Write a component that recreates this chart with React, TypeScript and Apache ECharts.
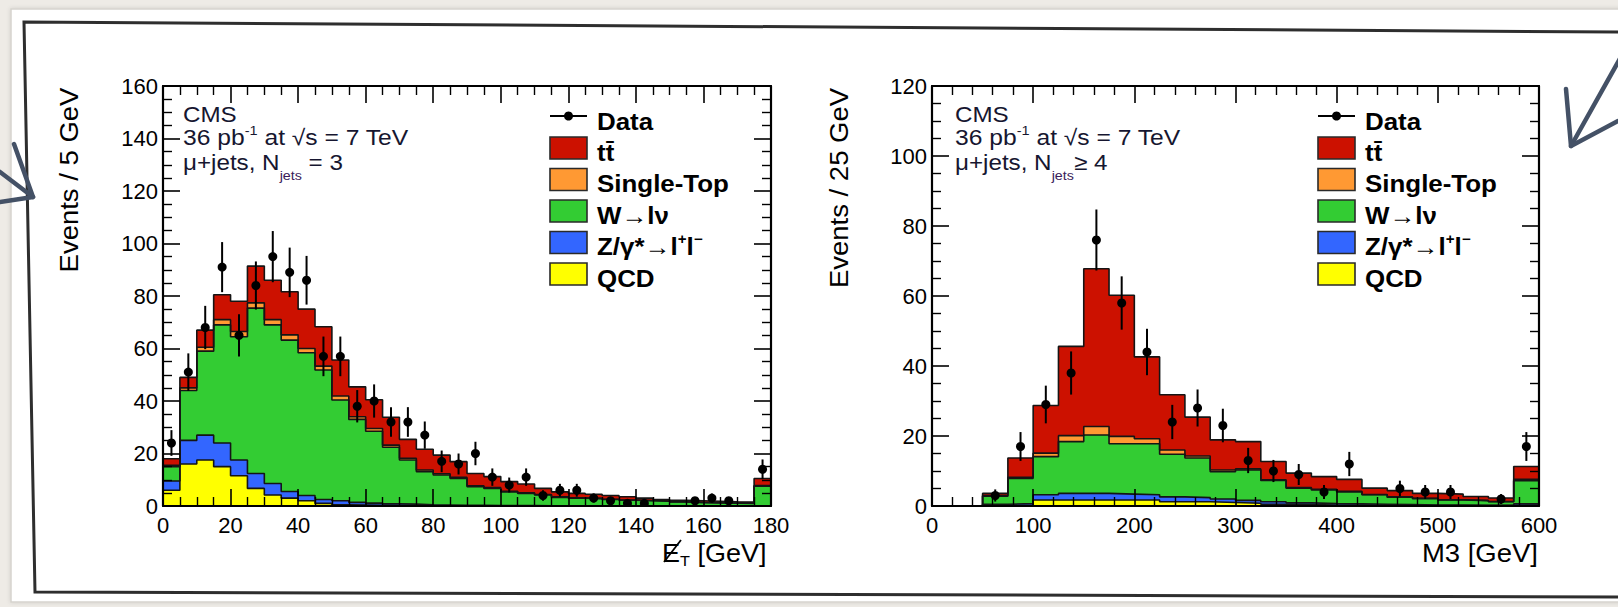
import React, { useEffect, useRef } from "react";
import * as echarts from "echarts";

// ---------------- data: missing E_T (5 GeV bins, 0-180) ----------------
const metBinWidth = 5;
const metQCD = [6, 16, 17.5, 15, 11.5, 6.7, 4.2, 3, 2, 1, 0.5, 0.4, 0.3, 0.2, 0.2, 0.1, 0.1, 0.1, 0, 0, 0, 0, 0, 0, 0, 0, 0, 0, 0, 0, 0, 0, 0, 0, 0, 0];
const metZ = [3.5, 9, 9.5, 9, 6, 5.7, 4.4, 2.5, 2, 1.5, 1.5, 1, 0.8, 0.6, 0.5, 0.4, 0.3, 0.2, 0.3, 0.2, 0.2, 0.2, 0.1, 0.1, 0.1, 0.1, 0.1, 0, 0, 0, 0, 0, 0, 0, 0, 0.1];
const metW = [5.5, 19, 32, 45, 47, 63, 60.4, 57.7, 54.4, 49.3, 38.4, 31.6, 27.4, 21.6, 16.8, 12.6, 11.4, 10.2, 7.1, 6.5, 5.2, 4.6, 4.1, 3.2, 2.9, 2.7, 2.4, 2.2, 2.0, 1.8, 1.5, 1.3, 1.2, 1.1, 1.0, 7.4];
const metST = [0.5, 1, 1.5, 2, 2, 2, 2, 2, 1.6, 1.5, 1.5, 1, 1, 0.8, 0.7, 0.6, 0.5, 0.4, 0.3, 0.3, 0.2, 0.2, 0.2, 0.2, 0.1, 0.1, 0.1, 0.1, 0.1, 0.1, 0.1, 0.1, 0.1, 0.1, 0.1, 0.3];
const metTT = [2.5, 4, 6.5, 9.5, 11.5, 14, 15, 16.4, 15, 15, 13.7, 11.4, 11, 10.6, 7.2, 7.9, 7.1, 6, 4.7, 4.2, 3.7, 3.4, 2.3, 1.9, 1.7, 1.6, 1.4, 1.2, 0.9, 0.6, 0.6, 0.6, 0.5, 0.4, 0.4, 2.7];
const metData: (number | null)[] = [24, 51, 68, 91, 65, 84, 95, 89, 86, 57, 57, 38, 40, 32, 32, 27, 17, 16, 20, 11, 8, 11, 4, 6, 6, 3, 2, 1, 1, null, null, 2, 3, 2, null, 14];

// ---------------- data: M3 (25 GeV bins, 0-600) ----------------
const m3BinWidth = 25;
const m3QCD = [0, 0, 0.2, 0.3, 1.7, 1.7, 1.7, 1.7, 1.7, 1.2, 1.2, 1.0, 0.8, 0.5, 0.4, 0.3, 0.3, 0.2, 0.2, 0.1, 0.1, 0.1, 0.1, 0.3];
const m3Z = [0, 0, 0.3, 0.4, 1.5, 1.9, 1.9, 1.7, 1.5, 1.4, 1.2, 1.0, 0.8, 0.7, 0.5, 0.4, 0.3, 0.3, 0.2, 0.2, 0.2, 0.1, 0.1, 0.3];
const m3W = [0, 0, 2.3, 7.2, 10.9, 14.8, 16.7, 14.4, 14.6, 12.2, 11.3, 7.8, 8.7, 6.1, 4.2, 3.9, 3.4, 2.7, 2.1, 1.8, 1.4, 1.3, 1.0, 6.6];
const m3ST = [0, 0, 0.2, 0.3, 1.0, 1.7, 2.4, 2.1, 1.4, 1.2, 0.6, 0.5, 0.3, 0.2, 0.2, 0.2, 0.2, 0.1, 0.1, 0.1, 0.1, 0.1, 0.1, 0.4];
const m3TT = [0, 0, 0.6, 5.5, 13.6, 25.5, 45.1, 40.3, 23.4, 15.8, 11.1, 8.6, 7.8, 5.2, 4.1, 3.6, 3.4, 1.8, 1.8, 1.4, 1.6, 1.1, 1.0, 3.7];
const m3Data: (number | null)[] = [null, null, 3, 17, 29, 38, 76, 58, 44, 24, 28, 23, 13, 10, 9, 4, 12, null, 5, 4, 4, null, 2, 17];

// axis definitions
const metAxisMax = 180;
const metAxisInterval = 20;
const metYMax = 160;
const m3AxisMax = 600;
const m3AxisInterval = 100;
const m3YMax = 120;
const yInterval = 20;

// ---------------- styling ----------------
const FONT = '"Liberation Sans", Arial, Helvetica, sans-serif';
const LAYER_NAMES = ["QCD", "Z/γ*→l⁺l⁻", "W→lν", "Single-Top", "tt̄"];
const LAYER_COLORS = ["#ffff00", "#3366ff", "#33cc33", "#ff9933", "#cc1100"];

function cumulative(layers: number[][]): number[][] {
  const out: number[][] = [];
  let run = layers[0].map(() => 0);
  for (const l of layers) {
    run = run.map((v, i) => v + l[i]);
    out.push(run);
  }
  return out;
}

function stepData(binWidth: number, vals: number[]) {
  const pts = vals.map((v, i) => [i * binWidth, Math.round(v * 1000) / 1000]);
  pts.push([vals.length * binWidth, Math.round(vals[vals.length - 1] * 1000) / 1000]);
  return pts;
}

function histSeries(tag: string, axisIdx: number, binWidth: number, layers: number[][]) {
  const cum = cumulative(layers);
  const out: any[] = [];
  for (let k = cum.length - 1; k >= 0; k--) {
    out.push({
      type: "line",
      name: tag + " " + LAYER_NAMES[k],
      xAxisIndex: axisIdx,
      yAxisIndex: axisIdx,
      step: "end",
      symbol: "none",
      silent: true,
      data: stepData(binWidth, cum[k]),
      itemStyle: { color: LAYER_COLORS[k] },
      lineStyle: { color: "#151515", width: 1.6 },
      areaStyle: { color: LAYER_COLORS[k], opacity: 1, origin: "start" },
      z: 2,
    });
  }
  return out;
}

function dataSeries(tag: string, axisIdx: number, binWidth: number, counts: (number | null)[]) {
  const items: number[][] = [];
  counts.forEach((n, i) => {
    if (n !== null) items.push([(i + 0.5) * binWidth, n, Math.sqrt(n)]);
  });
  return {
    type: "custom",
    name: tag + " Data",
    xAxisIndex: axisIdx,
    yAxisIndex: axisIdx,
    silent: true,
    clip: true,
    z: 20,
    dimensions: ["x", "y", "err"],
    encode: { x: 0, y: 1 },
    data: items,
    renderItem: (params: any, api: any) => {
      const x = api.value(0);
      const y = api.value(1);
      const e = api.value(2);
      const p = api.coord([x, y]);
      const lo = api.coord([x, Math.max(0, y - e)]);
      const hi = api.coord([x, y + e]);
      return {
        type: "group",
        children: [
          { type: "line", shape: { x1: p[0], y1: lo[1], x2: p[0], y2: hi[1] }, style: { stroke: "#000", lineWidth: 2 } },
          { type: "circle", shape: { cx: p[0], cy: p[1], r: 4.5 }, style: { fill: "#000" } },
        ],
      };
    },
  };
}

function axisBase(gridIndex: number) {
  return {
    type: "value",
    gridIndex,
    z: 10,
    splitLine: { show: false },
    axisLine: { show: true, onZero: false, lineStyle: { color: "#000", width: 2.2 } },
    axisTick: { show: true, inside: true, length: 17, lineStyle: { color: "#000", width: 1.6 } },
  };
}

function xAxes(gridIndex: number, max: number, interval: number, minorSplit: number) {
  const label = { show: true, color: "#000", fontFamily: FONT, fontSize: 22, margin: 8 };
  return [
    { ...axisBase(gridIndex), position: "bottom", min: 0, max, interval, axisLabel: label,
      minorTick: { show: true, splitNumber: minorSplit, length: 9, lineStyle: { color: "#000", width: 1.4 } } },
    { ...axisBase(gridIndex), position: "top", min: 0, max, interval, axisLabel: { show: false },
      minorTick: { show: true, splitNumber: minorSplit, length: 9, lineStyle: { color: "#000", width: 1.4 } } },
  ];
}

function yAxes(gridIndex: number, max: number) {
  const label = { show: true, color: "#000", fontFamily: FONT, fontSize: 22, margin: 5 };
  return [
    { ...axisBase(gridIndex), position: "left", min: 0, max, interval: yInterval, axisLabel: label,
      minorTick: { show: true, splitNumber: 4, length: 9, lineStyle: { color: "#000", width: 1.4 } } },
    { ...axisBase(gridIndex), position: "right", min: 0, max, interval: yInterval, axisLabel: { show: false },
      minorTick: { show: true, splitNumber: 4, length: 9, lineStyle: { color: "#000", width: 1.4 } } },
  ];
}

function text(x: number, y: number, str: string, opts: any = {}) {
  const align = opts.align || "left";
  return {
    type: "text",
    x,
    y,
    z: 60,
    rotation: opts.rotation || 0,
    scaleX: opts.scaleX || 1,
    silent: true,
    style: {
      text: str,
      fill: opts.color || "#000",
      fontFamily: FONT,
      fontSize: opts.size || 22,
      fontWeight: opts.weight || "normal",
      align,
      textAlign: align,
      verticalAlign: "middle",
      textVerticalAlign: "middle",
      rich: opts.rich,
    },
  };
}

function annotation(x: number, jetsText: string) {
  const c = "#161630";
  return [
    text(x, 114, "CMS", { size: 22, color: c, scaleX: 1.1 }),
    text(x, 137, "{m|36 pb}{s|-1}{m| at √s = 7 TeV}", {
      scaleX: 1.12,
      rich: {
        m: { fontFamily: FONT, fontSize: 22, fill: c, lineHeight: 26 },
        s: { fontFamily: FONT, fontSize: 13, fill: c, lineHeight: 16, verticalAlign: "top" },
      },
    }),
    text(x, 162, "{m|μ+jets, N}{s|jets}{m|" + jetsText + "}", {
      scaleX: 1.1,
      rich: {
        m: { fontFamily: FONT, fontSize: 22, fill: c, lineHeight: 40 },
        s: { fontFamily: FONT, fontSize: 13, fill: "#3a1a5a", lineHeight: 13, verticalAlign: "bottom" },
      },
    }),
  ];
}

function legend(x0: number) {
  const els: any[] = [];
  const w = 37;
  const h = 22;
  // Data entry
  els.push({ type: "line", z: 60, silent: true, shape: { x1: x0, y1: 116, x2: x0 + w, y2: 116 }, style: { stroke: "#000", lineWidth: 2 } });
  els.push({ type: "circle", z: 61, silent: true, shape: { cx: x0 + w / 2, cy: 116, r: 4.5 }, style: { fill: "#000" } });
  els.push(text(x0 + 47, 121, "Data", { size: 24, weight: "bold", scaleX: 1.08 }));
  const rows = [148, 179.5, 211, 242.5, 274];
  const order = [4, 3, 2, 1, 0];
  order.forEach((k, r) => {
    const yc = rows[r];
    els.push({
      type: "rect", z: 60, silent: true,
      shape: { x: x0, y: yc - h / 2, width: w, height: h },
      style: { fill: LAYER_COLORS[k], stroke: "#2a2a2a", lineWidth: 1.6 },
    });
    if (k === 1) {
      els.push(text(x0 + 47, yc + 4, "{m|Z/γ*→l}{s|+}{m|l}{s|−}", {
        scaleX: 1.08,
        rich: {
          m: { fontFamily: FONT, fontSize: 24, fontWeight: "bold", fill: "#000", lineHeight: 28 },
          s: { fontFamily: FONT, fontSize: 14, fontWeight: "bold", fill: "#000", lineHeight: 12, verticalAlign: "top" },
        },
      }));
    } else {
      els.push(text(x0 + 47, yc + 4, LAYER_NAMES[k], { size: 24, weight: "bold", scaleX: 1.08 }));
    }
  });
  return els;
}

function buildOption() {
  const graphics: any[] = [
    { type: "rect", z: -20, silent: true, shape: { x: 11, y: 9, width: 1620, height: 593 },
      style: { fill: "#ffffff", stroke: "#d6d3ce", lineWidth: 1.5, shadowBlur: 4, shadowColor: "rgba(0,0,0,0.12)" } },
    { type: "polyline", z: -10, silent: true, shape: { points: [[1620, 32], [24, 22], [35, 592], [1620, 597]] },
      style: { stroke: "#2e2e2e", lineWidth: 3, fill: null } },
    // sketched arrows
    { type: "polyline", z: 70, silent: true, shape: { points: [[0, 172], [33, 197]] },
      style: { stroke: "#445166", lineWidth: 4.5, lineCap: "round", fill: null } },
    { type: "polyline", z: 70, silent: true, shape: { points: [[14, 144], [33, 197], [0, 202]] },
      style: { stroke: "#445166", lineWidth: 4.5, lineCap: "round", lineJoin: "round", fill: null } },
    { type: "polyline", z: 70, silent: true, shape: { points: [[1622, 55], [1571, 146]] },
      style: { stroke: "#445166", lineWidth: 4.5, lineCap: "round", fill: null } },
    { type: "polyline", z: 70, silent: true, shape: { points: [[1566, 89], [1571, 146], [1618, 121]] },
      style: { stroke: "#445166", lineWidth: 4.5, lineCap: "round", lineJoin: "round", fill: null } },
    // axis titles
    text(69, 180, "Events / 5 GeV", { size: 25, rotation: Math.PI / 2, align: "center", scaleX: 1.1 }),
    text(839, 188, "Events / 25 GeV", { size: 25, rotation: Math.PI / 2, align: "center", scaleX: 1.1 }),
    text(662, 553, "{m|E}{s|T}{m| [GeV]}", {
      scaleX: 1.08,
      rich: {
        m: { fontFamily: FONT, fontSize: 25, fill: "#000", lineHeight: 30 },
        s: { fontFamily: FONT, fontSize: 15, fill: "#000", lineHeight: 12, verticalAlign: "bottom" },
      },
    }),
    { type: "line", z: 61, silent: true, shape: { x1: 664, y1: 562, x2: 681, y2: 540 }, style: { stroke: "#000", lineWidth: 1.8 } },
    text(1538, 553, "M3 [GeV]", { size: 25, align: "right", scaleX: 1.1 }),
    ...annotation(183, " = 3"),
    ...annotation(955, "≥ 4"),
    ...legend(550),
    ...legend(1318),
  ];

  return {
    animation: false,
    backgroundColor: "#eeebe6",
    grid: [
      { left: 163, top: 86, width: 608, height: 420 },
      { left: 932, top: 86, width: 607, height: 420 },
    ],
    xAxis: [
      ...xAxes(0, metAxisMax, metAxisInterval, 4),
      ...xAxes(1, m3AxisMax, m3AxisInterval, 5),
    ],
    yAxis: [
      ...yAxes(0, metYMax),
      ...yAxes(1, m3YMax),
    ],
    graphic: { elements: graphics },
    series: [
      ...histSeries("MET", 0, metBinWidth, [metQCD, metZ, metW, metST, metTT]),
      dataSeries("MET", 0, metBinWidth, metData),
      ...histSeries("M3", 2, m3BinWidth, [m3QCD, m3Z, m3W, m3ST, m3TT]),
      dataSeries("M3", 2, m3BinWidth, m3Data),
    ],
  };
}

export default function App() {
  const ref = useRef<HTMLDivElement>(null);
  useEffect(() => {
    if (!ref.current) return;
    const chart = echarts.init(ref.current, null, { renderer: "svg" });
    chart.setOption(buildOption() as any);
    return () => chart.dispose();
  }, []);
  return <div ref={ref} style={{ position: "fixed", left: 0, top: 0, width: 1618, height: 607 }} />;
}
